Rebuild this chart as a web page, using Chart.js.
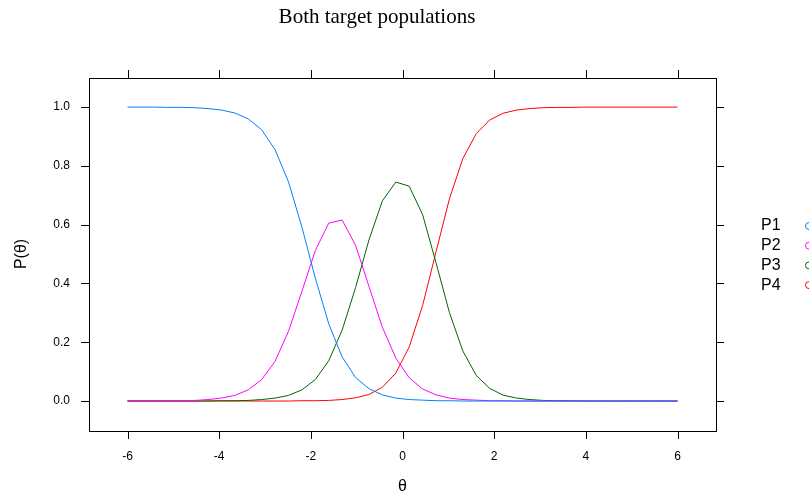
<!DOCTYPE html>
<html>
<head>
<meta charset="utf-8">
<script src="https://cdn.jsdelivr.net/npm/chart.js@4.4.1/dist/chart.umd.min.js"></script>
<style>
  html, body { margin: 0; padding: 0; background: #fff; }
  #wrap { width: 809px; height: 495px; }
</style>
</head>
<body>
<div id="wrap"><canvas id="myChart" width="809" height="495"></canvas></div>
<script>
// theta grid the curves were evaluated on
const theta = [-6.000, -5.707, -5.415, -5.122, -4.829, -4.537, -4.244, -3.951, -3.659, -3.366,
  -3.073, -2.780, -2.488, -2.195, -1.902, -1.610, -1.317, -1.024, -0.732, -0.439,
  -0.146, 0.146, 0.439, 0.732, 1.024, 1.317, 1.610, 1.902, 2.195, 2.488,
  2.780, 3.073, 3.366, 3.659, 3.951, 4.244, 4.537, 4.829, 5.122, 5.415,
  5.707, 6.000];

const p1 = [1.000, 1.000, 1.000, 0.999, 0.999, 0.998, 0.995, 0.990, 0.980, 0.960,
  0.923, 0.855, 0.746, 0.592, 0.418, 0.263, 0.150, 0.080, 0.042, 0.021,
  0.010, 0.005, 0.003, 0.001, 0.001, 0, 0, 0, 0, 0,
  0, 0, 0, 0, 0, 0, 0, 0, 0, 0,
  0, 0];
const p2 = [0, 0, 0, 0.001, 0.001, 0.002, 0.005, 0.010, 0.019, 0.038,
  0.073, 0.135, 0.237, 0.373, 0.512, 0.605, 0.616, 0.530, 0.390, 0.251,
  0.146, 0.079, 0.041, 0.021, 0.010, 0.005, 0.003, 0.001, 0.001, 0,
  0, 0, 0, 0, 0, 0, 0, 0, 0, 0,
  0, 0];
const p3 = [0, 0, 0, 0, 0, 0, 0, 0.001, 0.001, 0.002,
  0.005, 0.010, 0.019, 0.038, 0.073, 0.137, 0.241, 0.386, 0.548, 0.681,
  0.745, 0.731, 0.634, 0.470, 0.301, 0.170, 0.087, 0.043, 0.020, 0.010,
  0.005, 0.002, 0.001, 0.001, 0, 0, 0, 0, 0, 0,
  0, 0];
const p4 = [0, 0, 0, 0, 0, 0, 0, 0, 0, 0,
  0, 0, 0, 0.001, 0.001, 0.002, 0.005, 0.011, 0.022, 0.047,
  0.095, 0.184, 0.325, 0.508, 0.688, 0.825, 0.910, 0.956, 0.979, 0.990,
  0.995, 0.998, 0.999, 0.999, 1, 1, 1, 1, 1, 1,
  1, 1];

const seriesNames = ["P1", "P2", "P3", "P4"];
const seriesColors = ["#0080ff", "#ff00ff", "#006400", "#ff0000"];
const xTicks = [-6, -4, -2, 0, 2, 4, 6];
const yTicks = [0.0, 0.2, 0.4, 0.6, 0.8, 1.0];

const toPoints = (vals) => vals.map((v, i) => ({ x: theta[i], y: v }));

// lattice style frame: box, ticks on all four sides, labels left/bottom
const latticeFrame = {
  id: "latticeFrame",
  afterDraw(chart) {
    const ctx = chart.ctx;
    const a = chart.chartArea;
    const xs = chart.scales.x, ys = chart.scales.y;
    const tl = 8;
    ctx.save();
    ctx.strokeStyle = "#000";
    ctx.lineWidth = 1;
    ctx.strokeRect(Math.round(a.left) + 0.5, Math.round(a.top) + 0.5,
      Math.round(a.right - a.left), Math.round(a.bottom - a.top));

    ctx.fillStyle = "#000";
    ctx.font = "12px 'Liberation Sans', Arial, sans-serif";
    ctx.beginPath();
    xTicks.forEach(t => {
      const px = Math.round(xs.getPixelForValue(t)) + 0.5;
      ctx.moveTo(px, a.bottom); ctx.lineTo(px, a.bottom + tl);
      ctx.moveTo(px, a.top); ctx.lineTo(px, a.top - tl);
    });
    yTicks.forEach(t => {
      const py = Math.round(ys.getPixelForValue(t)) + 0.5;
      ctx.moveTo(a.left, py); ctx.lineTo(a.left - tl, py);
      ctx.moveTo(a.right, py); ctx.lineTo(a.right + tl, py);
    });
    ctx.stroke();

    ctx.textAlign = "center";
    ctx.textBaseline = "middle";
    xTicks.forEach(t => {
      ctx.fillText(String(t), xs.getPixelForValue(t), a.bottom + 26);
    });
    ctx.textAlign = "right";
    yTicks.forEach(t => {
      ctx.fillText(t.toFixed(1), a.left - 19, ys.getPixelForValue(t));
    });

    // axis titles
    ctx.font = "16px 'Liberation Sans', Arial, sans-serif";
    ctx.textAlign = "center";
    ctx.fillText("θ", (a.left + a.right) / 2, 487);
    ctx.save();
    ctx.translate(22, 254);
    ctx.rotate(-Math.PI / 2);
    ctx.fillText("P(θ)", 0, 0);
    ctx.restore();

    // main title
    ctx.font = "21px 'Liberation Serif', 'Times New Roman', serif";
    ctx.fillText("Both target populations", 377, 17);

    // key on the right
    ctx.font = "16px 'Liberation Sans', Arial, sans-serif";
    ctx.textAlign = "left";
    chart.data.datasets.forEach((ds, i) => {
      const y = 226 + i * 19.7;
      ctx.fillStyle = "#000";
      ctx.fillText(ds.label, 761, y);
      ctx.strokeStyle = ds.borderColor;
      ctx.beginPath();
      ctx.arc(809, y, 3.5, 0, Math.PI * 2);
      ctx.stroke();
    });
    ctx.restore();
  }
};

const ctx = document.getElementById("myChart").getContext("2d");
const myChart = new Chart(ctx, {
  type: "line",
  data: {
    datasets: [p1, p2, p3, p4].map((vals, i) => ({
      label: seriesNames[i],
      data: toPoints(vals),
      borderColor: seriesColors[i],
      borderWidth: 1,
      pointRadius: 0,
      fill: false,
      tension: 0
    }))
  },
  options: {
    responsive: false,
    animation: false,
    layout: { padding: { left: 89, right: 93, top: 78, bottom: 64 } },
    plugins: { legend: { display: false }, tooltip: { enabled: false } },
    scales: {
      x: { type: "linear", min: -6.84, max: 6.84, display: false },
      y: { type: "linear", min: -0.102, max: 1.099, display: false }
    }
  },
  plugins: [latticeFrame]
});
</script>
</body>
</html>
